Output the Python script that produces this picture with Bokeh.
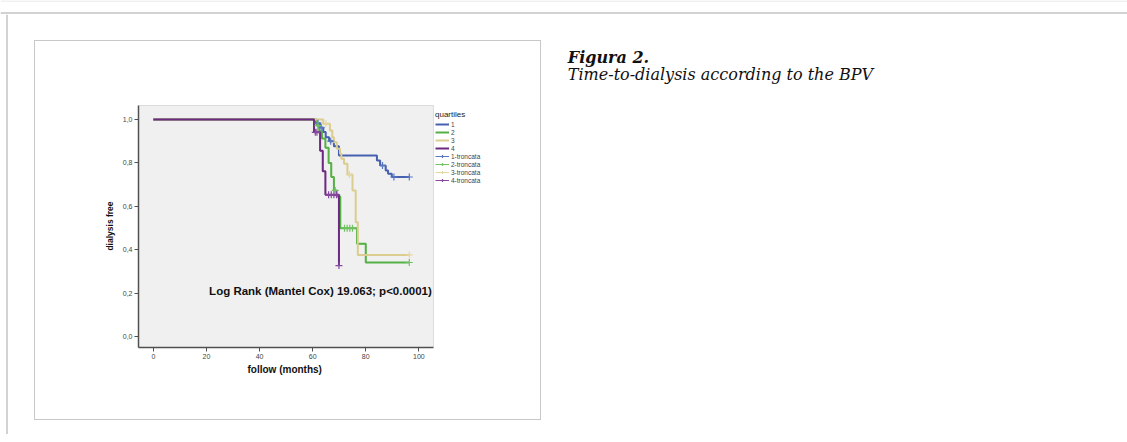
from bokeh.plotting import figure
from bokeh.models import (Label, Legend, LegendItem, Range1d, Span, Spacer, BoxAnnotation,
                          FixedTicker, CustomJSTickFormatter, Title)
from bokeh.layouts import row, column
from bokeh.embed import file_html
from bokeh.resources import INLINE

# ---------------- data ----------------
q1_time = [0, 60.8, 62.8, 64.0, 64.9, 66.2, 68.0, 69.9, 84.2, 85.4, 87.5, 88.4, 89.8, 96.4]
q1_surv = [1.0, 0.983, 0.963, 0.942, 0.918, 0.900, 0.877, 0.834, 0.811, 0.788, 0.765, 0.750, 0.735, 0.735]
q1_cens = [62.0, 63.2, 66.8, 86.3, 90.6, 96.4]

q2_time = [0, 61.5, 62.5, 63.5, 64.8, 66.0, 67.0, 68.0, 69.0, 70.4, 76.7, 80.0, 96.4]
q2_surv = [1.0, 0.972, 0.945, 0.912, 0.870, 0.800, 0.735, 0.673, 0.645, 0.499, 0.427, 0.341, 0.341]
q2_cens = [62.0, 68.5, 72.0, 73.0, 74.0, 75.0, 96.4]

q3_time = [0, 64.0, 66.5, 67.4, 68.0, 69.1, 70.3, 70.8, 71.8, 73.1, 75.0, 76.2, 77.0, 96.4]
q3_surv = [1.0, 0.980, 0.949, 0.918, 0.895, 0.865, 0.842, 0.819, 0.796, 0.746, 0.673, 0.527, 0.376, 0.376]
q3_cens = [65.0, 73.8, 96.4]

q4_time = [0, 60.5, 62.8, 63.8, 64.8, 69.9]
q4_surv = [1.0, 0.941, 0.856, 0.761, 0.653, 0.327]
q4_cens = [61.0, 61.6, 66.0, 67.0, 68.0, 69.0, 69.9]

series_labels = ["1", "2", "3", "4"]
censor_labels = ["1-troncata", "2-troncata", "3-troncata", "4-troncata"]
line_colors = ["#4761b0", "#55b046", "#dacd8f", "#6c2a80"]
censor_colors = ["#5a77c4", "#70c263", "#e3d8a2", "#86489e"]

x_ticks = [0, 20, 40, 60, 80, 100]
y_ticks = [0.0, 0.2, 0.4, 0.6, 0.8, 1.0]
y_tick_labels = ["0,0", "0,2", "0,4", "0,6", "0,8", "1,0"]

# plot-area extent (data units)
x_lo, x_hi = -5.6, 105.5
y_lo, y_hi = -0.0507, 1.0645

x_title = "follow (months)"
y_title = "dialysis free"
legend_title = "quartiles"
stat_text = "Log Rank (Mantel Cox) 19.063; p<0.0001)"
stat_pos = (21.0, 0.21)
caption_head = "Figura 2."
caption_text = "Time-to-dialysis according to the BPV"


def surv_at(times, survs, t):
    s = survs[0]
    for ti, si in zip(times, survs):
        if ti <= t:
            s = si
    return s


FONT = "Liberation Sans"
FRAME_GREY = "#d2d2d2"

# ---------------- chart (the image box) ----------------
FW = 398  # frame width in px (plot area + legend zone)
p = figure(width=505, height=378,
           x_range=Range1d(x_lo, x_lo + FW / 2.655), y_range=Range1d(y_lo, y_hi + 1 / 217.0),
           output_backend="svg", toolbar_location=None,
           min_border_left=103, min_border_right=4,
           min_border_top=63, min_border_bottom=72)

p.background_fill_color = "white"
p.border_fill_color = "white"
p.outline_line_color = None
p.xgrid.visible = False
p.ygrid.visible = False

p.add_layout(BoxAnnotation(left=x_lo, right=x_hi, bottom=y_lo, top=y_hi,
                           fill_color="#f0f0f0", fill_alpha=1.0,
                           line_color="#9a9a9a", line_width=1, level="underlay"))

for ax in (p.xaxis[0], p.yaxis[0]):
    ax.axis_line_color = "#505050"
    ax.axis_line_width = 1.5
    ax.major_tick_line_color = "#505050"
    ax.major_tick_in = 0
    ax.major_tick_out = 4
    ax.minor_tick_line_color = None
    ax.major_label_text_font = FONT
    ax.major_label_text_font_size = "7px"
    ax.major_label_text_color = "#444444"
    ax.axis_label_text_font = FONT
    ax.axis_label_text_font_style = "bold"
    ax.axis_label_text_color = "#111111"

p.xaxis.bounds = (x_lo, x_hi)
p.yaxis.bounds = (y_lo, y_hi)
p.yaxis.axis_label_text_font_size = "8.5px"
p.xaxis.ticker = FixedTicker(ticks=x_ticks)
p.yaxis.ticker = FixedTicker(ticks=y_ticks)
p.yaxis.formatter = CustomJSTickFormatter(args=dict(tvals=y_ticks, tlabels=y_tick_labels), code="""
for (let i = 0; i < tvals.length; i++) { if (Math.abs(tvals[i] - tick) < 1e-6) return tlabels[i]; }
return tick.toFixed(1).replace('.', ',');
""")
p.yaxis.axis_label = y_title
p.xaxis.major_label_standoff = 2
p.yaxis.major_label_standoff = 2
p.yaxis.axis_label_standoff = 5

# x-axis title, centred under the plot box (not under the legend zone)
p.add_layout(Title(text=x_title, align="left", offset=109, standoff=1,
                   text_font=FONT, text_font_size="10px", text_font_style="bold",
                   text_color="#111111"), "below")

curves = [(q1_time, q1_surv, q1_cens), (q2_time, q2_surv, q2_cens),
          (q3_time, q3_surv, q3_cens), (q4_time, q4_surv, q4_cens)]

# thin light copies of each curve (under the main ones) give the "troncata" key its line
light_steps = []
for (tt, ss, cc), cc_col in zip(curves, censor_colors):
    light_steps.append(p.step(tt, ss, mode="after", line_color=cc_col, line_width=1))

line_items = []
cens_items = []
for (tt, ss, cc), lc, lab in zip(curves, line_colors, series_labels):
    r = p.step(tt, ss, mode="after", line_color=lc, line_width=2)
    line_items.append(LegendItem(label=lab, renderers=[r]))
for (tt, ss, cc), cc_col, clab, ls in zip(curves, censor_colors, censor_labels, light_steps):
    cs = [surv_at(tt, ss, c) for c in cc]
    rc = p.scatter(cc, cs, marker="cross", size=7, line_color=cc_col, line_width=1.2)
    cens_items.append(LegendItem(label=clab, renderers=[ls, rc]))

legend = Legend(items=line_items + cens_items, location=(295, 161),
                title=legend_title, title_text_font=FONT, title_text_font_size="8px",
                title_text_font_style="normal", title_text_color="#222222", title_standoff=1,
                label_text_font=FONT, label_text_font_size="6.5px",
                glyph_width=14, glyph_height=8, label_height=8, spacing=0,
                padding=2, margin=0, label_standoff=2,
                border_line_alpha=0, background_fill_alpha=0)
p.add_layout(legend)

p.add_layout(Label(x=stat_pos[0], y=stat_pos[1], text=stat_text, text_font=FONT,
                   text_font_style="bold", text_font_size="11.5px", text_color="#111111",
                   text_baseline="middle"))

chart_box = column(p, styles={"border": "1px solid #c8c8c8"})

# ---------------- caption ----------------
cap = figure(width=586, height=45, x_range=Range1d(0, 586), y_range=Range1d(45, 0),
             output_backend="svg", toolbar_location=None, min_border=0,
             x_axis_type=None, y_axis_type=None)
cap.outline_line_color = None
cap.background_fill_color = "white"
cap.border_fill_color = "white"
cap.xgrid.visible = False
cap.ygrid.visible = False
cap.add_layout(Label(x=26.3, y=16.5, text=caption_head,
                     text_font="DejaVu Serif", text_font_style="bold italic",
                     text_font_size="16px", text_color="#111111", text_baseline="alphabetic"))
cap.add_layout(Label(x=26.3, y=33.5, text=caption_text,
                     text_font="DejaVu Serif", text_font_style="italic",
                     text_font_size="16px", text_color="#111111", text_baseline="alphabetic"))

# ---------------- page frame strips ----------------
top = figure(width=1127, height=14, x_range=Range1d(0, 1127), y_range=Range1d(14, 0),
             output_backend="svg", toolbar_location=None, min_border=0,
             x_axis_type=None, y_axis_type=None)
top.outline_line_color = None
top.xgrid.visible = False
top.ygrid.visible = False
top.add_layout(Span(location=0.5, dimension="width", line_color="#e2e2e2", line_width=1))
top.add_layout(Span(location=12.5, dimension="width", line_color=FRAME_GREY, line_width=2))

left = figure(width=8, height=420, x_range=Range1d(0, 8), y_range=Range1d(420, 0),
              output_backend="svg", toolbar_location=None, min_border=0,
              x_axis_type=None, y_axis_type=None)
left.outline_line_color = None
left.xgrid.visible = False
left.ygrid.visible = False
left.add_layout(Span(location=6.5, dimension="height", line_color=FRAME_GREY, line_width=2))

layout = column(top,
                row(left, Spacer(width=26),
                    column(Spacer(height=26), chart_box),
                    column(Spacer(height=26), cap)))

open("out.html", "w").write(file_html(layout, INLINE))
